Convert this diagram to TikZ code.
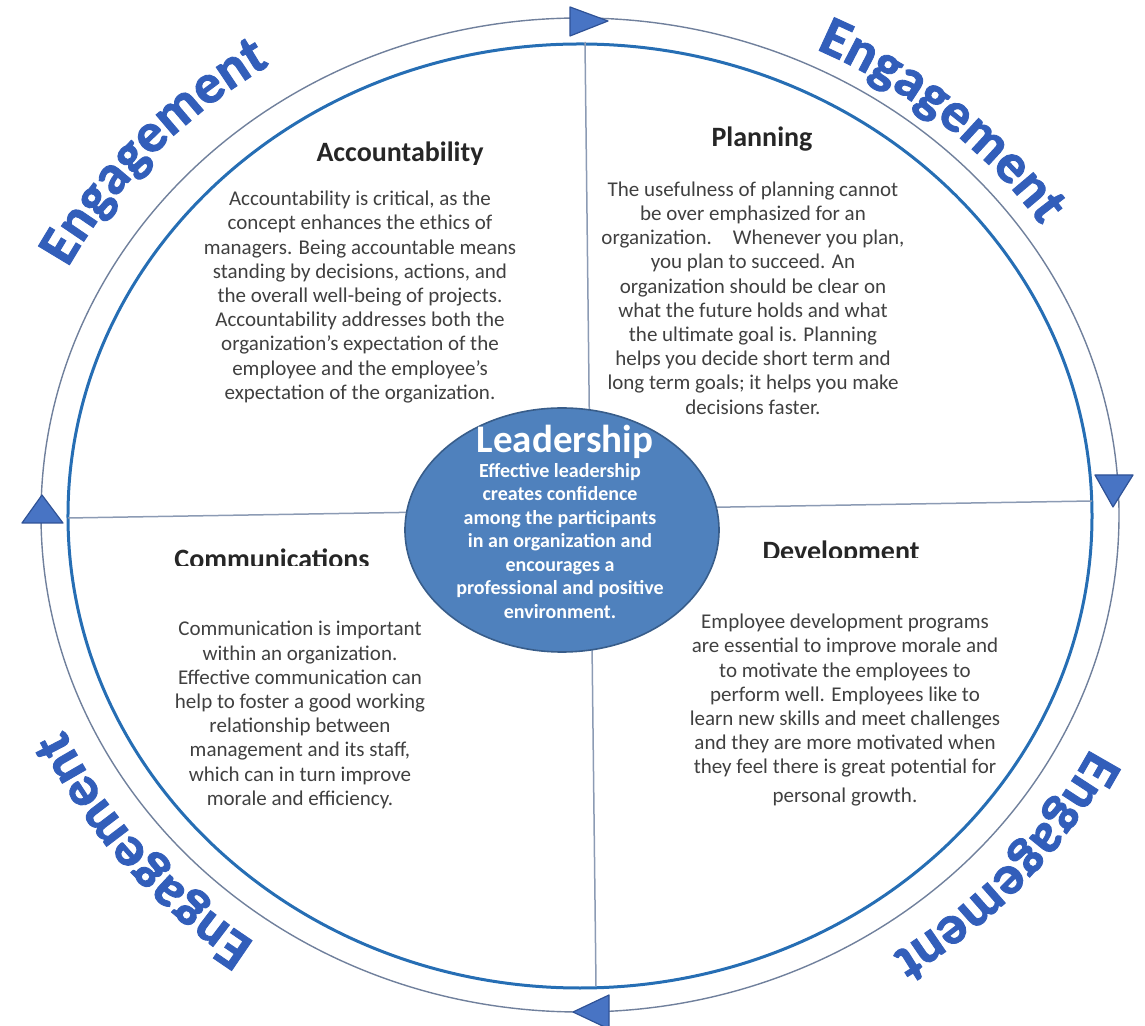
\documentclass[tikz,border=0pt]{standalone}
\usepackage{fontspec}
\setmainfont{Carlito}
\newfontfamily\engfamily[BoldFeatures={FakeBold=1.6}]{Carlito}
\usepackage{tikz}
\usetikzlibrary{positioning}
\usetikzlibrary{shapes}
\usetikzlibrary{decorations.text}

\definecolor{ringgray}{RGB}{112,128,156}
\definecolor{ringblue}{RGB}{38,110,180}
\definecolor{crossgray}{RGB}{140,155,180}
\definecolor{triblue}{RGB}{72,116,196}
\definecolor{triedge}{RGB}{47,82,150}
\definecolor{leadfill}{RGB}{79,129,189}
\definecolor{leadedge}{RGB}{56,93,138}
\definecolor{engblue}{RGB}{50,94,186}
\definecolor{bodygray}{RGB}{64,64,64}

\newcommand{\engfont}{\engfamily\fontsize{28}{28}\selectfont\bfseries}

\tikzstyle{quadhead}=[font=\fontsize{14}{16}\selectfont\bfseries,text=black!85,inner sep=0pt,anchor=base]
\tikzstyle{quadbody}=[font=\fontsize{10.5}{12.1}\selectfont,text=bodygray,align=center,inner sep=0pt]
\tikzstyle{leadbody}=[font=\fontsize{10}{11.75}\selectfont\bfseries,text=white,align=center,inner sep=0pt]
\tikzstyle{marker}=[fill=triblue,draw=triedge,line width=0.6pt,line join=round]
\tikzstyle{engage}=[decorate,decoration={text along path,text align=center,text color=engblue,text={|\engfont|Engagement}}]

\begin{document}
\begin{tikzpicture}[x=0.5pt,y=0.5pt]
\useasboundingbox (-580,-511) rectangle (565,515);

% rings
\draw[ringgray,line width=0.7pt] (0,0) ellipse [x radius=539,y radius=497];
\draw[ringblue,line width=1.5pt] (0,-1) ellipse [x radius=512,y radius=472];

% quadrant lines
\coordinate (ntop) at (5,473);
\coordinate (nbot) at (16,-471);
\coordinate (wleft) at (-512,-3);
\coordinate (eright) at (512,14);
\draw[crossgray,line width=0.75pt] (ntop) -- (nbot);
\draw[crossgray,line width=0.75pt] (wleft) -- (eright);

% direction markers on the outer ring
\draw[marker] (28,494) -- (-10,508) -- (-10,479) -- cycle;
\draw[marker] (533,8) -- (515,40) -- (553,40) -- cycle;
\draw[marker] (-7,-497) -- (29,-480) -- (29,-514) -- cycle;
\draw[marker] (-538,20) -- (-558,-8) -- (-517,-8) -- cycle;

% engagement labels
\path[engage] (173:578 and 533) arc[start angle=173,end angle=103,x radius=578,y radius=533];
\path[engage] (84:558 and 514) arc[start angle=84,end angle=14,x radius=558,y radius=514];
\path[engage] (-6:570 and 525) arc[start angle=-6,end angle=-76,x radius=570,y radius=525];
\path[engage] (254:566 and 522) arc[start angle=254,end angle=184,x radius=566,y radius=522];

% centre
\node[ellipse,fill=leadfill,draw=leadedge,line width=0.8pt,minimum width=157pt,minimum height=122pt,inner sep=0pt] (lead) at (-18,-15) {};
\node[font=\fontsize{19.5}{20}\selectfont\bfseries,text=white,anchor=base,inner sep=0pt] (leadhead) at (-15,62) {Leadership};
\node[leadbody] (leadtext) at (-20,-26) {Effective leadership\\
creates confidence\\
among the participants\\
in an organization and\\
encourages a\\
professional and positive\\
environment.};

% accountability
\begin{scope}
\clip (-320,350) rectangle (-40,420);
\node[quadhead] (acchead) at (-180,353) {Accountability};
\end{scope}
\node[quadbody] (accbody) at (-220,218) {Accountability is critical, as the\\
concept enhances the ethics of\\
managers. Being accountable means\\
standing by decisions, actions, and\\
the overall well-being of projects.\\
Accountability addresses both the\\
organization's expectation of the\\
employee and the employee's\\
expectation of the organization.};

% planning
\node[quadhead] (planhead) at (182,368) {Planning};
\node[quadbody] (planbody) at (173,217) {The usefulness of planning cannot\\
be over emphasized for an\\
organization.\quad Whenever you plan,\\
you plan to succeed. An\\
organization should be clear on\\
what the future holds and what\\
the ultimate goal is. Planning\\
helps you decide short term and\\
long term goals; it helps you make\\
decisions faster.};

% communications
\begin{scope}
\clip (-460,-51) rectangle (-150,10);
\node[quadhead] (commhead) at (-308,-54) {Communications};
\end{scope}
\node[quadbody] (commbody) at (-280,-200) {Communication is important\\
within an organization.\\
Effective communication can\\
help to foster a good working\\
relationship between\\
management and its staff,\\
which can in turn improve\\
morale and efficiency.};

% development
\begin{scope}
\clip (150,-43) rectangle (380,20);
\node[quadhead] (devhead) at (261,-46) {Development};
\end{scope}
\node[quadbody] (devbody) at (265,-195) {Employee development programs\\
are essential to improve morale and\\
to motivate the employees to\\
perform well. Employees like to\\
learn new skills and meet challenges\\
and they are more motivated when\\
they feel there is great potential for\\[2pt]
personal growth.};

\end{tikzpicture}
\end{document}
